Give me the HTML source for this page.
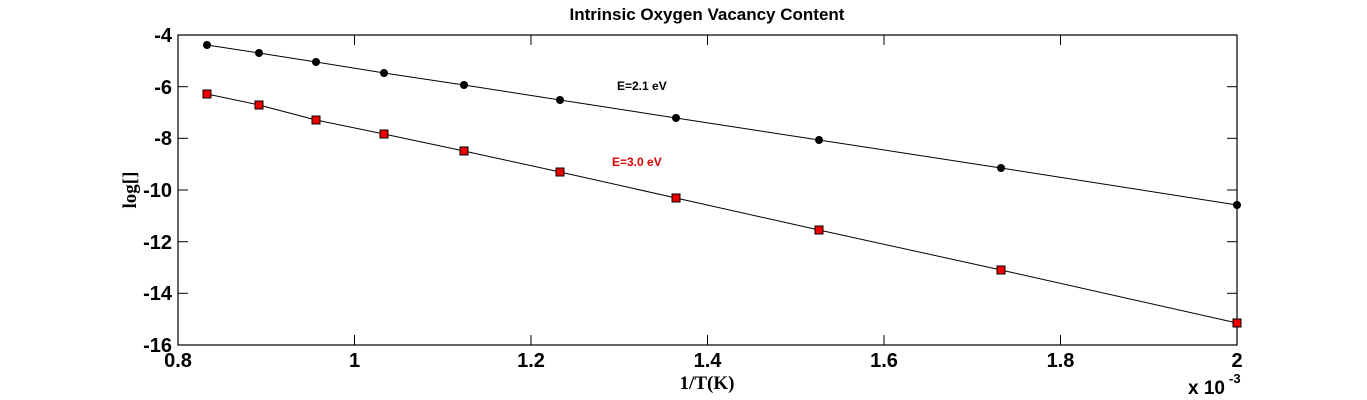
<!DOCTYPE html>
<html><head><style>body{margin:0;background:#fff}svg{display:block}</style></head><body>
<svg width="1367" height="400" xmlns="http://www.w3.org/2000/svg" font-family="Liberation Sans, sans-serif">
<rect width="1367" height="400" fill="#fff"/>
<text x="707" y="20" text-anchor="middle" font-size="17" font-weight="bold">Intrinsic Oxygen Vacancy Content</text>
<rect x="178" y="35" width="1059" height="310" fill="none" stroke="#000" stroke-width="1.2"/>
<g stroke="#000" stroke-width="1">
<line x1="178" y1="86.7" x2="188" y2="86.7"/><line x1="178" y1="138.3" x2="188" y2="138.3"/><line x1="178" y1="190" x2="188" y2="190"/><line x1="178" y1="241.7" x2="188" y2="241.7"/><line x1="178" y1="293.3" x2="188" y2="293.3"/>
<line x1="1227" y1="86.7" x2="1237" y2="86.7"/><line x1="1227" y1="138.3" x2="1237" y2="138.3"/><line x1="1227" y1="190" x2="1237" y2="190"/><line x1="1227" y1="241.7" x2="1237" y2="241.7"/><line x1="1227" y1="293.3" x2="1237" y2="293.3"/>
<line x1="354.5" y1="345" x2="354.5" y2="335"/><line x1="531" y1="345" x2="531" y2="335"/><line x1="707.5" y1="345" x2="707.5" y2="335"/><line x1="884" y1="345" x2="884" y2="335"/><line x1="1060.5" y1="345" x2="1060.5" y2="335"/>
<line x1="354.5" y1="35" x2="354.5" y2="45"/><line x1="531" y1="35" x2="531" y2="45"/><line x1="707.5" y1="35" x2="707.5" y2="45"/><line x1="884" y1="35" x2="884" y2="45"/><line x1="1060.5" y1="35" x2="1060.5" y2="45"/>
</g>
<g font-size="20" font-weight="bold" text-anchor="end">
<text x="172" y="42">-4</text><text x="172" y="94">-6</text><text x="172" y="145">-8</text><text x="172" y="197">-10</text><text x="172" y="249">-12</text><text x="172" y="300">-14</text><text x="172" y="352">-16</text>
</g>
<g font-size="20" font-weight="bold" text-anchor="middle">
<text x="178" y="367">0.8</text><text x="354.5" y="367">1</text><text x="531" y="367">1.2</text><text x="707.5" y="367">1.4</text><text x="884" y="367">1.6</text><text x="1060.5" y="367">1.8</text><text x="1237" y="367">2</text>
</g>
<text x="1188" y="394" font-size="19" font-weight="bold">x 10</text><text x="1229" y="383" font-size="13" font-weight="bold">-3</text>
<text x="707" y="389" text-anchor="middle" font-size="19" font-weight="bold" font-family="Liberation Serif, serif">1/T(K)</text>
<text transform="translate(136,190) rotate(-90)" text-anchor="middle" font-size="19" font-weight="bold" font-family="Liberation Serif, serif">log[]</text>
<text x="617" y="90" font-size="12" font-weight="bold">E=2.1 eV</text>
<text x="612" y="166" font-size="12" font-weight="bold" fill="#d00">E=3.0 eV</text>
<polyline fill="none" stroke="#000" stroke-width="1" points="207,45 259,53 316,62 384,73 464,85 560,100 676,118 819,140 1001,168 1237,205"/>
<polyline fill="none" stroke="#000" stroke-width="1" points="207,94 259,105 316,120 384,134 464,151 560,172 676,198 819,230 1001,270 1237,323"/>
<g fill="#000">
<circle cx="207" cy="45" r="4"/><circle cx="259" cy="53" r="4"/><circle cx="316" cy="62" r="4"/><circle cx="384" cy="73" r="4"/><circle cx="464" cy="85" r="4"/><circle cx="560" cy="100" r="4"/><circle cx="676" cy="118" r="4"/><circle cx="819" cy="140" r="4"/><circle cx="1001" cy="168" r="4"/><circle cx="1237" cy="205" r="4"/>
</g>
<g fill="#e00" stroke="#000" stroke-width="1">
<rect x="203" y="90" width="8" height="8"/><rect x="255" y="101" width="8" height="8"/><rect x="312" y="116" width="8" height="8"/><rect x="380" y="130" width="8" height="8"/><rect x="460" y="147" width="8" height="8"/><rect x="556" y="168" width="8" height="8"/><rect x="672" y="194" width="8" height="8"/><rect x="815" y="226" width="8" height="8"/><rect x="997" y="266" width="8" height="8"/><rect x="1233" y="319" width="8" height="8"/>
</g>
</svg>
</body></html>
